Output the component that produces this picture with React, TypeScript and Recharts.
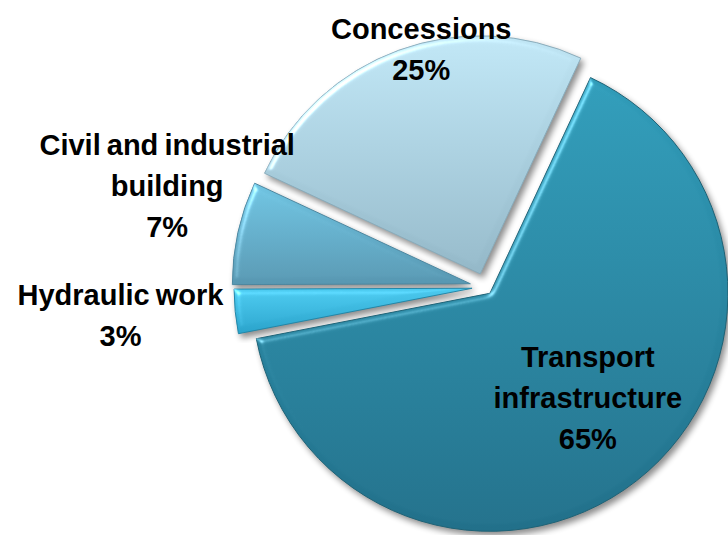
import React from 'react';
import { PieChart, Pie, Cell } from 'recharts';

// values
const categories = ['Transport infrastructure', 'Hydraulic work', 'Civil and industrial building', 'Concessions'];
const shares = [65, 3, 7, 25];
const labelLines = [['Transport', 'infrastructure'], ['Hydraulic work'], ['Civil and industrial', 'building'], ['Concessions']];

const data = categories.map((name, i) => ({ name, value: shares[i] }));

const START_ANGLE = 65;
const END_ANGLE = START_ANGLE - 360;
const CENTER = { x: 485, y: 287 };
const RADIUS = 238;
const RAD = Math.PI / 180;

// how far each slice is pulled out of the pie
const EXPLODE = [8, 13, 15, 14];

const GRADIENTS = [
  ['#309cb9', '#22708a'],
  ['#4ccaef', '#2aa3cb'],
  ['#6fc4e2', '#5897b1'],
  ['#bfe5f4', '#94b8c8'],
];
const STROKES = ['#1d6276', '#2387a8', '#4c87a0', '#8aacbb'];

// label anchor: fraction of radius along the mid angle, then a small nudge
const LABEL_POS = [
  { k: 0.6, dx: 10, dy: -8 },
  { k: 1.48, dx: -1, dy: -7 },
  { k: 1.33, dx: 6, dy: -30 },
  { k: 0.97, dx: 20, dy: -7 },
];

const LINE_H = 41;

const total = shares.reduce((a, b) => a + b, 0);
const midAngles = shares.map((v, i) => {
  const before = shares.slice(0, i).reduce((a, b) => a + b, 0);
  return START_ANGLE - ((before + v / 2) / total) * 360;
});

const renderLabel = (slice: number) => (props: any) => {
  const { cx, cy, midAngle, outerRadius, index, value } = props;
  if (index !== slice) return null;
  const p = LABEL_POS[slice];
  const x = cx + outerRadius * p.k * Math.cos(-midAngle * RAD) + p.dx;
  const y = cy + outerRadius * p.k * Math.sin(-midAngle * RAD) + p.dy;
  const lines = [...labelLines[slice], `${value}%`];
  const top = y - ((lines.length - 1) / 2) * LINE_H;
  return (
    <text
      x={x}
      y={top}
      textAnchor="middle"
      fill="#000"
      style={{ fontFamily: '"Liberation Sans", Arial, sans-serif', fontWeight: 700, fontSize: 29, wordSpacing: -2 }}
    >
      {lines.map((l, i) => (
        <tspan key={i} x={x} y={top + i * LINE_H} dominantBaseline="central">
          {l}
        </tspan>
      ))}
    </text>
  );
};

export default function App() {
  return (
    <div style={{ position: 'absolute', left: 0, top: 0, width: 728, height: 535, background: '#fff' }}>
      <PieChart width={728} height={535} margin={{ top: 0, right: 0, bottom: 0, left: 0 }}>
        <defs>
          {GRADIENTS.map((g, i) => (
            <linearGradient key={i} id={`grad-${i}`} x1="0" y1="0" x2="0" y2="1">
              <stop offset="0%" stopColor={g[0]} />
              <stop offset="100%" stopColor={g[1]} />
            </linearGradient>
          ))}
          <filter id="bevel" x="-10%" y="-10%" width="130%" height="130%" colorInterpolationFilters="sRGB">
            <feGaussianBlur in="SourceAlpha" stdDeviation="3" result="blur" />
            <feSpecularLighting in="blur" surfaceScale="4" specularConstant="0.8" specularExponent="30" lightingColor="#ffffff" result="spec">
              <feDistantLight azimuth="225" elevation="35" />
            </feSpecularLighting>
            <feComposite in="spec" in2="SourceAlpha" operator="in" result="specIn" />
            <feComposite in="SourceGraphic" in2="specIn" operator="arithmetic" k1="0" k2="1" k3="0.5" k4="0" result="lit" />
            <feGaussianBlur in="SourceAlpha" stdDeviation="3" result="sb" />
            <feOffset in="sb" dx="3" dy="4" result="so" />
            <feComponentTransfer in="so" result="sh">
              <feFuncA type="linear" slope="0.45" />
            </feComponentTransfer>
            <feMerge>
              <feMergeNode in="sh" />
              <feMergeNode in="lit" />
            </feMerge>
          </filter>
        </defs>
        {[3, 2, 1, 0].map((k) => (
          <Pie
            key={k}
            data={data}
            dataKey="value"
            nameKey="name"
            cx={CENTER.x + EXPLODE[k] * Math.cos(-midAngles[k] * RAD)}
            cy={CENTER.y + EXPLODE[k] * Math.sin(-midAngles[k] * RAD)}
            outerRadius={RADIUS}
            startAngle={START_ANGLE}
            endAngle={END_ANGLE}
            stroke="none"
            label={renderLabel(k)}
            labelLine={false}
            isAnimationActive={false}
          >
            {data.map((_, i) => (
              <Cell
                key={i}
                fill={i === k ? `url(#grad-${k})` : 'none'}
                stroke={i === k ? STROKES[k] : 'none'}
                strokeWidth={1}
                filter={i === k ? 'url(#bevel)' : undefined}
              />
            ))}
          </Pie>
        ))}
      </PieChart>
    </div>
  );
}
